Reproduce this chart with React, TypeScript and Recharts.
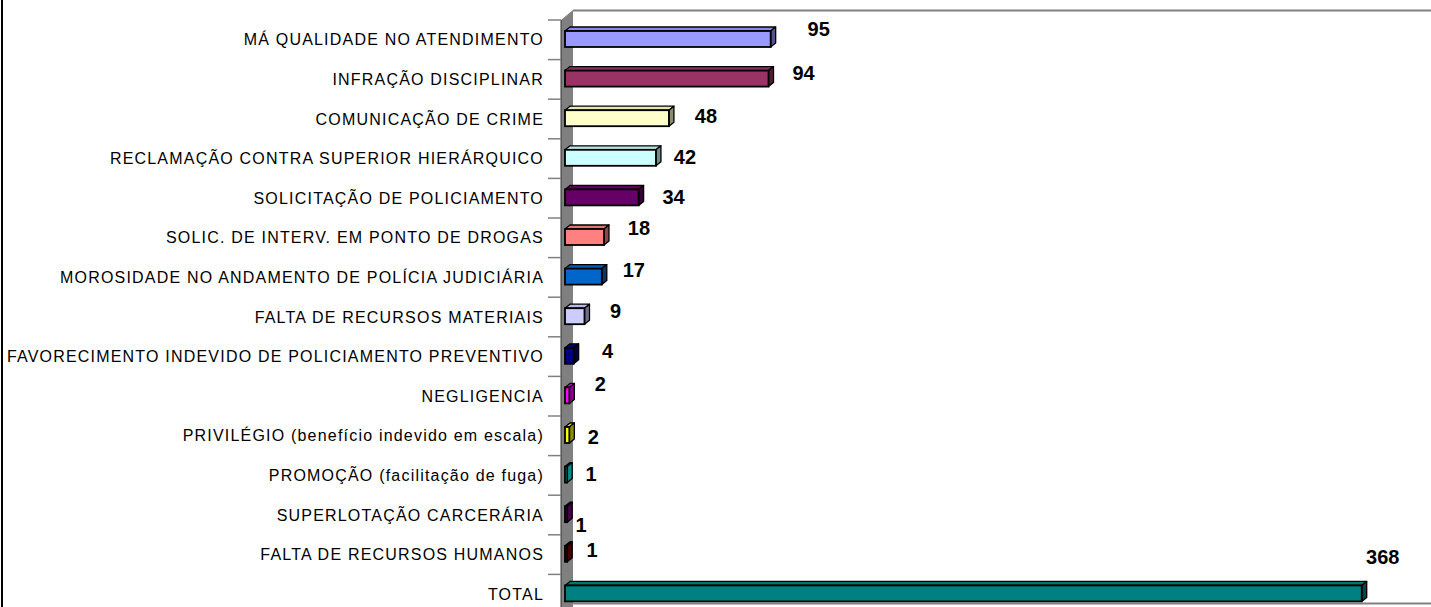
import { BarChart, Bar, XAxis, YAxis } from "recharts";

const CATEGORIES = [
  "MÁ QUALIDADE NO ATENDIMENTO",
  "INFRAÇÃO DISCIPLINAR",
  "COMUNICAÇÃO DE CRIME",
  "RECLAMAÇÃO CONTRA SUPERIOR HIERÁRQUICO",
  "SOLICITAÇÃO DE POLICIAMENTO",
  "SOLIC. DE INTERV. EM PONTO DE DROGAS",
  "MOROSIDADE NO ANDAMENTO DE POLÍCIA JUDICIÁRIA",
  "FALTA DE RECURSOS MATERIAIS",
  "FAVORECIMENTO INDEVIDO DE POLICIAMENTO PREVENTIVO",
  "NEGLIGENCIA",
  "PRIVILÉGIO (benefício indevido em escala)",
  "PROMOÇÃO (facilitação de fuga)",
  "SUPERLOTAÇÃO CARCERÁRIA",
  "FALTA DE RECURSOS HUMANOS",
  "TOTAL",
];

const VALUES = [95, 94, 48, 42, 34, 18, 17, 9, 4, 2, 2, 1, 1, 1, 368];

// excel default series palette
const COLORS = [
  "#9999FF", "#993366", "#FFFFCC", "#CCFFFF", "#660066",
  "#FF8080", "#0066CC", "#CCCCFF", "#000080", "#FF00FF",
  "#FFFF00", "#00FFFF", "#800080", "#800000", "#008080",
];

// value label nudges (from bar end / band centre), excel placed them loosely
const LABEL_DX = [48, 35, 37, 29, 35, 35, 32, 31, 34, 31, 24, 24, 14, 25, 21];
const LABEL_DY = [-10, -6, -2, -1, 0, -9, -7, -5, -5, -11, 2, -1, 11, -4, -36];

const W = 1431;
const H = 607;
const DEPTH_X = 5;
const DEPTH_Y = 4;
const FONT = "'Liberation Sans', Arial, sans-serif";

const chartData = CATEGORIES.map((name, i) => ({ name, value: VALUES[i] }));

function shade(hex: string, k: number) {
  const n = parseInt(hex.slice(1), 16);
  const r = Math.round(((n >> 16) & 255) * k);
  const g = Math.round(((n >> 8) & 255) * k);
  const b = Math.round((n & 255) * k);
  return `rgb(${r},${g},${b})`;
}

function Bar3D(props: any) {
  const { x, y, width, height, index, value } = props;
  const c = COLORS[index];
  const x2 = x + width;
  const y2 = y + height;
  const top = `${x},${y} ${x + DEPTH_X},${y - DEPTH_Y} ${x2 + DEPTH_X},${y - DEPTH_Y} ${x2},${y}`;
  const side = `${x2},${y} ${x2 + DEPTH_X},${y - DEPTH_Y} ${x2 + DEPTH_X},${y2 - DEPTH_Y} ${x2},${y2}`;
  return (
    <g>
      <polygon points={top} fill={shade(c, 0.9)} stroke="#000" strokeWidth={1.3} strokeLinejoin="round" />
      <polygon points={side} fill={shade(c, 0.55)} stroke="#000" strokeWidth={1.3} strokeLinejoin="round" />
      <rect x={x} y={y} width={width} height={height} fill={c} stroke="#000" strokeWidth={1.8} />
      <text
        x={x2 + LABEL_DX[index]}
        y={y + height / 2 + LABEL_DY[index]}
        textAnchor="middle"
        dominantBaseline="central"
        fontFamily={FONT}
        fontWeight="bold"
        fontSize={20}
        fill="#000"
      >
        {value}
      </text>
    </g>
  );
}

function CategoryTick(props: any) {
  const { y, payload } = props;
  const band = 39.6;
  const ty = y - band / 2 + 1;
  return (
    <g>
      <line x1={548} x2={561} y1={ty} y2={ty} stroke="#808080" strokeWidth={1.5} />
      <text
        x={544}
        y={y + 1}
        textAnchor="end"
        dominantBaseline="central"
        fontFamily={FONT}
        fontSize={16}
        letterSpacing={1.2}
        fill="#000"
      >
        {payload.value}
      </text>
    </g>
  );
}

export default function App() {
  return (
    <div
      style={{
        position: "absolute",
        left: 0,
        top: 0,
        width: W,
        height: H,
        overflow: "hidden",
        background: "#fff",
      }}
    >
      {/* 3d wall, back edge and frame drawn behind the chart */}
      <svg width={W} height={H} style={{ position: "absolute", left: 0, top: 0 }}>
        <line x1={2} x2={2} y1={0} y2={H} stroke="#000" strokeWidth={2} />
        <polygon points={`561,20 573,10 573,${H} 561,${H}`} fill="#808080" />
        <line x1={561} x2={561} y1={20} y2={H} stroke="#333" strokeWidth={1} />
        <line x1={573} x2={W} y1={10.5} y2={10.5} stroke="#808080" strokeWidth={2} />
        <line x1={573} x2={W} y1={603.5} y2={603.5} stroke="#808080" strokeWidth={2} />
      </svg>
      <div style={{ position: "absolute", left: 0, top: 0 }}>
        <BarChart
          width={W}
          height={613}
          data={chartData}
          layout="vertical"
          margin={{ top: 19, right: 0, bottom: 0, left: 0 }}
          barCategoryGap={0}
        >
          <XAxis type="number" domain={[0, 400]} hide />
          <YAxis
            type="category"
            dataKey="name"
            width={565}
            axisLine={false}
            tickLine={false}
            interval={0}
            tick={<CategoryTick />}
          />
          <Bar dataKey="value" barSize={16} shape={<Bar3D />} isAnimationActive={false} />
        </BarChart>
      </div>
    </div>
  );
}
